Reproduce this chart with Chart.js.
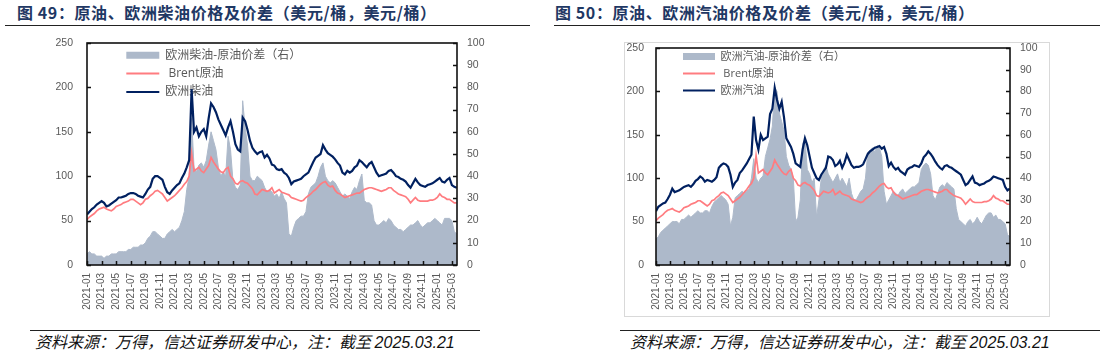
<!DOCTYPE html>
<html>
<head>
<meta charset="utf-8">
<script src="https://cdn.jsdelivr.net/npm/chart.js@4.4.1/dist/chart.umd.min.js"></script>
<style>
  html, body { margin: 0; padding: 0; background: #fff; }
  body { width: 1108px; height: 355px; position: relative; overflow: hidden; }
  .title { position: absolute; top: 2px; font-family: "Noto Sans CJK SC", "Liberation Sans", sans-serif; font-weight: 700; font-size: 16px; letter-spacing: 0.6px; color: #1f3864; white-space: nowrap; line-height: 20px; }
  .rule { position: absolute; height: 0; border-top: 1.5px solid #222; }
  .foot { position: absolute; top: 331px; font-family: "Noto Sans CJK SC", sans-serif; font-style: italic; font-size: 16px; color: #111; white-space: nowrap; line-height: 20px; }
  .foot .num { font-family: "Liberation Sans", Arial, sans-serif; font-style: italic; font-size: 16px; }
  canvas { position: absolute; top: 0; }
  .frame { position: absolute; border: 1px solid #d9d9d9; }
</style>
</head>
<body>
<div class="title" style="left:17px;">图 49：原油、欧洲柴油价格及价差（美元/桶，美元/桶）</div>
<div class="rule" style="left:5px;width:525px;top:25px;"></div>
<div class="title" style="left:555px;">图 50：原油、欧洲汽油价格及价差（美元/桶，美元/桶）</div>
<div class="rule" style="left:554px;width:546px;top:25px;"></div>

<div class="frame" style="left:624px;top:42px;width:424px;height:273px;"></div>
<canvas id="c1" width="554" height="320" style="left:0;"></canvas>
<canvas id="c2" width="554" height="320" style="left:554px;"></canvas>

<div class="rule" style="left:30px;width:450px;top:330px;"></div>
<div class="foot" style="left:35px;">资料来源：万得，信达证券研发中心，注：截至 <span class="num">2025.03.21</span></div>
<div class="rule" style="left:620px;width:480px;top:330px;"></div>
<div class="foot" style="left:630px;">资料来源：万得，信达证券研发中心，注：截至 <span class="num">2025.03.21</span></div>

<script>
// ---- Data: three readings per month (early / mid / late), 2021-01 .. 2025-03 ----
const startMonth = '2021-01';
const samplesPerMonth = 3;

const xTickLabels = ['2021-01','2021-03','2021-05','2021-07','2021-09','2021-11',
  '2022-01','2022-03','2022-05','2022-07','2022-09','2022-11',
  '2023-01','2023-03','2023-05','2023-07','2023-09','2023-11',
  '2024-01','2024-03','2024-05','2024-07','2024-09','2024-11',
  '2025-01','2025-03'];

const leftAxisTicks = [0, 50, 100, 150, 200, 250];
const rightAxisTicks = [0, 10, 20, 30, 40, 50, 60, 70, 80, 90, 100];

// Brent crude, USD/bbl
const brent = [
  51,54,56, 58,61,63, 64,65,63, 62,61,63, 66,67,68, 70,71,72, 74,74,72, 70,68,70, 74,75,78, 80,83,84, 82,80,76, 72,74,76,
  78,81,84, 87,91,94, 100,126,106, 108,110,106, 104,108,112, 121,116,112, 108,105,104, 108,110,100, 97,92,91, 94,95,93, 92,89,86, 80,79,82,
  85,84,83, 84,87,81, 83,85,82, 81,80,79, 76,75,74, 73,72,73, 76,78,80, 83,85,88, 91,93,94, 90,88,89, 84,81,80, 78,76,77,
  78,79,80, 81,81,83, 85,86,87, 87,86,85, 84,83,84, 85,87,87, 84,82,80, 79,78,77, 74,70,73, 76,73,72, 72,72,72, 73,73,74,
  76,80,77, 76,74,74, 72,70,70
];

// European diesel, USD/bbl
const dieselEU = [
  57,60,63, 65,68,70, 72,70,66, 67,69,71, 73,76,76, 77,78,80, 81,81,80, 78,77,76, 80,85,88, 97,100,100, 98,96,88, 82,80,84,
  87,90,92, 98,103,110, 118,198,150, 155,145,150, 153,145,165, 182,178,172, 164,158,152, 146,155,162, 150,136,130, 128,166,162, 152,140,132, 128,125,127,
  128,121,124, 120,113,112, 108,107,108, 104,102,98, 91,94,95, 96,97,100, 102,104,110, 116,121,123, 125,135,130, 126,124,122, 119,115,112, 104,102,106,
  104,106,110, 112,118,116, 113,110,114, 116,110,104, 100,101,102, 103,106,107, 104,100,99, 97,96,94, 90,87,92, 97,93,90, 89,88,90, 91,92,94,
  96,98,94, 93,96,98, 90,88,87
];

// European diesel - crude spread, USD/bbl (right axis)
const dieselSpread = [
  5,6,5, 5,4,4, 4,3,4, 4,5,5, 5,6,6, 6,6,7, 7,8,8, 8,9,9, 10,12,13, 15,15,14, 13,12,12, 14,15,16,
  15,16,17, 20,24,34, 40,66,44, 42,45,46, 44,47,54, 60,56,52, 44,40,42, 40,58,52, 38,35,34, 36,74,62, 54,40,38, 38,40,39,
  38,35,33, 34,33,31, 32,30,33, 30,28,14, 13,17,20, 21,22,22, 24,32,35, 36,37,40, 44,46,40, 38,37,38, 37,35,33, 31,32,31,
  30,33,35, 34,38,41, 29,28,28, 27,20,18, 18,19,20, 19,21,20, 18,17,16, 16,15,16, 17,18,18, 19,20,18, 17,18,19, 19,20,21,
  20,19,18, 21,21,21, 20,15,14
];

// European gasoline, USD/bbl
const gasolineEU = [
  62,67,69, 71,72,76, 81,88,84, 85,86,88, 90,91,92, 90,93,97, 99,102,100, 96,98,97, 96,98,101, 112,115,117, 116,113,104, 90,95,98,
  106,109,113, 117,122,127, 171,144,133, 150,144,146, 148,174,180, 204,190,180, 188,170,146, 141,136,128, 117,115,113, 133,146,138, 125,112,106, 100,98,104,
  108,112,125, 124,121,114, 116,120,112, 118,127,121, 115,112,113, 113,114,116, 122,128,131, 133,135,136, 137,134,136, 128,114,118, 113,110,112, 108,106,104,
  110,112,113, 115,114,113, 117,124,127, 131,128,124, 119,115,112, 110,114,115, 113,112,110, 108,106,104, 98,92,94, 98,102,95, 94,92,93, 94,96,97,
  99,102,101, 100,99,98, 90,86,88
];

// European gasoline - crude spread, USD/bbl (right axis)
const gasolineSpread = [
  12,13,15, 16,17,18, 19,20,20, 20,19,21, 21,22,23, 22,23,24, 25,24,24, 25,25,24, 27,29,30, 31,32,31, 30,28,18, 22,31,32,
  33,34,33, 34,35,40, 49,40,38, 40,41,50, 54,58,64, 82,80,70, 66,62,50, 46,44,40, 20,22,30, 56,58,44, 42,38,40, 22,30,40,
  44,46,42, 40,38,40, 42,38,40, 38,36,40, 33,30,30, 32,34,35, 40,52,53, 54,52,55, 54,50,34, 28,30,32, 34,33,32, 34,35,33,
  34,35,36, 36,37,38, 44,46,47, 46,42,32, 30,33,36, 37,36,38, 37,36,35, 26,21,20, 19,18,20, 21,19,20, 22,20,19, 21,23,24,
  24,22,23, 21,21,20, 19,14,13
];

// ---- helpers ----
function monthIndex(label) {
  const [y0, m0] = startMonth.split('-').map(Number);
  const [y, m] = label.split('-').map(Number);
  return (y - y0) * 12 + (m - m0);
}
const tickMap = {};
xTickLabels.forEach(l => { tickMap[monthIndex(l)] = l; });
const toPoints = arr => arr.map((v, i) => ({ x: i / samplesPerMonth, y: v }));

Chart.defaults.font.family = '"Liberation Sans", "Noto Sans CJK SC", Arial, sans-serif';
Chart.defaults.color = '#595959';

const frameTicks = {
  id: 'frameTicks',
  afterDatasetsDraw(chart) {
    const { ctx, chartArea: a, scales } = chart;
    const L = 4;
    ctx.save();
    ctx.strokeStyle = '#111';
    ctx.lineWidth = 1.5;
    ctx.beginPath();
    scales.x.ticks.forEach(t => { const p = Math.round(scales.x.getPixelForValue(t.value)) + 0.5; ctx.moveTo(p, a.bottom); ctx.lineTo(p, a.bottom - L); });
    scales.y.ticks.forEach(t => { const p = Math.round(scales.y.getPixelForValue(t.value)) + 0.5; ctx.moveTo(a.left, p); ctx.lineTo(a.left + L, p); });
    scales.y1.ticks.forEach(t => { const p = Math.round(scales.y1.getPixelForValue(t.value)) + 0.5; ctx.moveTo(a.right, p); ctx.lineTo(a.right - L, p); });
    ctx.stroke();
    ctx.lineWidth = 1.6;
    ctx.strokeRect(a.left, a.top, a.right - a.left, a.bottom - a.top);
    ctx.restore();
  }
};

const legendPlace = {
  id: 'legendPlace',
  afterLayout(chart, args, o) {
    const lg = chart.legend;
    if (!lg) return;
    lg.left = chart.chartArea.left + o.dx;
    lg.top = chart.chartArea.top + o.dy;
  }
};

function makeChart(id, o) {
  return new Chart(document.getElementById(id), {
    type: 'line',
    data: {
      datasets: [
        { label: o.spreadLabel, data: toPoints(o.spread), yAxisID: 'y1', fill: 'origin',
          backgroundColor: '#ADB9CA', borderColor: '#ADB9CA', borderWidth: 1, pointRadius: 0, order: 3 },
        { label: ' Brent原油', data: toPoints(brent), yAxisID: 'y', fill: false,
          borderColor: '#FF7C80', borderWidth: 1.7, pointRadius: 0, order: 2 },
        { label: o.productLabel, data: toPoints(o.product), yAxisID: 'y', fill: false,
          borderColor: '#002060', borderWidth: 2.2, pointRadius: 0, order: 1 }
      ]
    },
    options: {
      responsive: false,
      animation: false,
      layout: { padding: { top: o.top, left: 0, right: 0, bottom: 0 } },
      plugins: {
        tooltip: { enabled: false },
        legendPlace: { dx: o.legendDx, dy: o.legendDy },
        legend: {
          position: 'chartArea',
          align: 'start',
          labels: {
            usePointStyle: true,
            pointStyleWidth: o.legendBoxW,
            boxHeight: 7,
            padding: o.legendPad,
            color: '#595959',
            font: { size: o.legendFont, family: '"Open Sans", "Noto Sans CJK SC", sans-serif' },
            sort: (a, b) => a.datasetIndex - b.datasetIndex,
            generateLabels: chart => chart.data.datasets.map((ds, i) => ({
              text: ds.label,
              datasetIndex: i,
              hidden: false,
              fillStyle: ds.fill ? ds.backgroundColor : 'rgba(0,0,0,0)',
              strokeStyle: ds.fill ? 'rgba(0,0,0,0)' : ds.borderColor,
              lineWidth: ds.fill ? 0 : 2,
              pointStyle: ds.fill ? 'rect' : 'line',
              fontColor: '#595959'
            }))
          }
        }
      },
      scales: {
        x: {
          type: 'linear', min: 0, max: 50.7,
          afterBuildTicks: s => { s.ticks = xTickLabels.map(l => ({ value: monthIndex(l) })); },
          afterFit: s => { s.height = 55; },
          grid: { display: false, drawTicks: false },
          border: { display: false },
          ticks: { autoSkip: false, minRotation: 90, maxRotation: 90, padding: 8,
                   font: { size: 10 }, color: '#595959', callback: v => tickMap[v] || '' }
        },
        y: {
          position: 'left', min: 0, max: 250,
          afterBuildTicks: s => { s.ticks = leftAxisTicks.map(v => ({ value: v })); },
          afterFit: s => { s.width = o.leftW; },
          grid: { display: false, drawTicks: false },
          border: { display: false },
          ticks: { padding: o.leftPad, font: { size: 10.5 }, color: '#595959' }
        },
        y1: {
          position: 'right', min: 0, max: 100,
          afterBuildTicks: s => { s.ticks = rightAxisTicks.map(v => ({ value: v })); },
          afterFit: s => { s.width = o.rightW; },
          grid: { display: false, drawTicks: false },
          border: { display: false },
          ticks: { padding: 10, font: { size: 10.5 }, color: '#595959' }
        }
      }
    },
    plugins: [frameTicks, legendPlace]
  });
}

makeChart('c1', {
  spreadLabel: '欧洲柴油-原油价差（右）', productLabel: '欧洲柴油',
  spread: dieselSpread, product: dieselEU,
  top: 43, leftW: 87, rightW: 97, leftPad: 14,
  legendDx: 33, legendDy: 0, legendPad: 6.3, legendFont: 12, legendBoxW: 33
});
makeChart('c2', {
  spreadLabel: '欧洲汽油-原油价差（右）', productLabel: '欧洲汽油',
  spread: gasolineSpread, product: gasolineEU,
  top: 48, leftW: 102, rightW: 98, leftPad: 12,
  legendDx: 21, legendDy: -3, legendPad: 6, legendFont: 11, legendBoxW: 32
});
</script>
</body>
</html>
